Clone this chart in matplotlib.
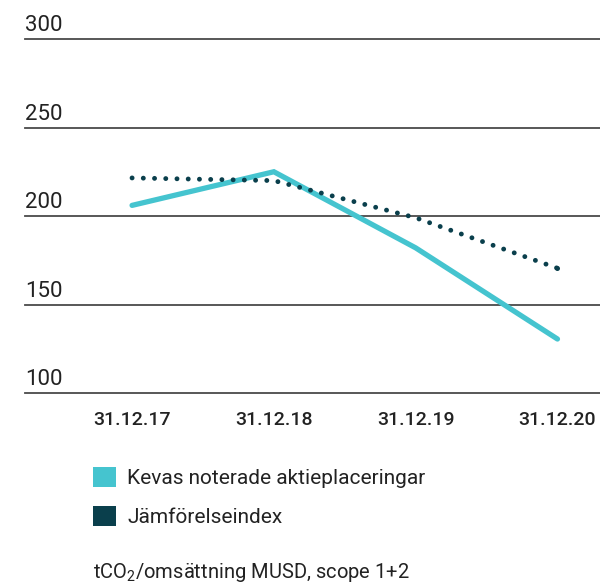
import matplotlib
matplotlib.use("Agg")
import matplotlib.pyplot as plt
from matplotlib.patches import Patch

plt.rcParams['font.family'] = ['Roboto', 'DejaVu Sans']
plt.rcParams['mathtext.default'] = 'regular'

categories = ["31.12.17", "31.12.18", "31.12.19", "31.12.20"]
kevas = [206, 225, 182, 130.5]
index = [221.5, 220, 199, 170.5]
yticks = [100, 150, 200, 250, 300]
series_names = ["Kevas noterade aktieplaceringar", "Jämförelseindex"]
unit_text = "tCO$_2$/omsättning MUSD, scope 1+2"

teal = "#45c4cf"
dark = "#0a3f4c"
txt = "#222222"

W, H = 600, 585
fig = plt.figure(figsize=(W/100, H/100), dpi=100)
ax = fig.add_axes([25/W, 1-393/H, 575/W, (393-39)/H])

x = list(range(len(categories)))
ax.plot(x, kevas, color=teal, lw=3.8, solid_capstyle='round', solid_joinstyle='miter', zorder=3)
ax.plot(x, index, color=dark, lw=3.5, linestyle=(0, (0.01, 2.3)), dash_capstyle='round', zorder=4)
ax.plot([x[-1]], [index[-1]], 'o', color=dark, ms=3.6, mec='none', zorder=4)

ax.set_ylim(100, 300)
ax.set_xlim(-0.755, 3.30)
for v in yticks:
    ax.axhline(v, color="#4a4a4a", lw=1.3, zorder=1, clip_on=False)
    ax.annotate(str(v), xy=(0, v), xycoords=ax.get_yaxis_transform(),
                xytext=(0, 2), textcoords='offset points',
                ha='left', va='bottom', fontsize=16, color=txt)

for s in ax.spines.values():
    s.set_visible(False)
ax.set_yticks([])
ax.set_xticks(x)
ax.set_xticklabels(categories, fontsize=14, color=txt, fontweight='medium')
ax.tick_params(axis='x', length=0, pad=13)

handles = [Patch(facecolor=teal, edgecolor='none'), Patch(facecolor=dark, edgecolor='none')]
fig.legend(handles, series_names, loc='upper left', bbox_to_anchor=(93/W, 1-467/H),
           frameon=False, fontsize=15, handlelength=1.1, handleheight=1.1,
           handletextpad=0.55, labelspacing=0.85, borderpad=0, borderaxespad=0,
           labelcolor=txt)

fig.text(93/W, 1-573/H, unit_text, fontsize=14.5, color=txt, ha='left', va='center')

fig.savefig("out.png", dpi=100)
